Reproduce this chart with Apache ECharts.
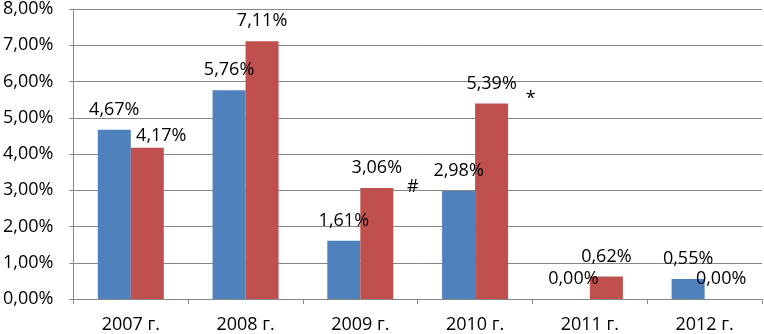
<!DOCTYPE html>
<html>
<head>
<meta charset="utf-8">
<script src="https://cdn.jsdelivr.net/npm/echarts@6/dist/echarts.min.js"></script>
<style>
    html, body { margin: 0; padding: 0; background: #fff; }
    #chart { width: 764px; height: 334px; }
</style>
</head>
<body>
<div id="chart"></div>
<script>
// данные графика
const years = ['2007 г.', '2008 г.', '2009 г.', '2010 г.', '2011 г.', '2012 г.'];
const blueValues = [4.67, 5.76, 1.61, 2.98, 0.00, 0.55];
const redValues = [4.17, 7.11, 3.06, 5.39, 0.62, 0.00];
const yTicks = [0, 1, 2, 3, 4, 5, 6, 7, 8];
const marks = [['2009 г.', 3.06, '#'], ['2010 г.', 5.39, '*']];

const FONT = 'Open Sans';
const FS = 18;
const fmt = function (v) {
    return Number(v).toFixed(2).replace('.', ',') + '%';
};

let chart = echarts.init(document.getElementById('chart'), null, {renderer: 'canvas'});

let redData = redValues.map(function (v, i) {
    if (i === 0) { // 4,17% сдвинута вправо, чтобы не налезать на соседнюю
        return {value: v, label: {offset: [14, 8]}};
    }
    return v;
});

let labelStyle = {
    show: true,
    position: 'top',
    distance: 11,
    fontFamily: FONT,
    fontSize: FS,
    color: '#000',
    formatter: function (p) { return fmt(p.value); }
};

let option = {
    animation: false,
    grid: {
        left: 71,
        right: 2,
        top: 8,
        bottom: 34,
        containLabel: false
    },
    xAxis: {
        type: 'category',
        data: years,
        axisLine: {lineStyle: {color: '#868686', width: 1}},
        axisTick: {show: true, length: 5, lineStyle: {color: '#868686'}},
        axisLabel: {
            fontFamily: FONT,
            fontSize: FS,
            color: '#000',
            margin: 17
        }
    },
    yAxis: {
        type: 'value',
        min: yTicks[0],
        max: yTicks[yTicks.length - 1],
        interval: 1,
        axisLine: {show: true, lineStyle: {color: '#868686', width: 1}},
        axisTick: {show: true, length: 4, lineStyle: {color: '#868686'}},
        splitLine: {lineStyle: {color: '#868686', width: 1}},
        axisLabel: {
            fontFamily: FONT,
            fontSize: FS,
            color: '#000',
            margin: 20,
            formatter: fmt
        }
    },
    series: [
        {
            name: 'blue',
            type: 'bar',
            data: blueValues,
            barWidth: 33,
            barGap: '0%',
            itemStyle: {color: '#4F81BD'},
            label: labelStyle
        },
        {
            name: 'red',
            type: 'bar',
            data: redData,
            barWidth: 33,
            barGap: '0%',
            itemStyle: {color: '#C0504D'},
            label: labelStyle,
            markPoint: {
                symbol: 'circle',
                symbolSize: 0,
                silent: true,
                data: marks.map(function (m, i) {
                    return {
                        coord: [m[0], m[1]],
                        label: {
                            show: true,
                            formatter: m[2],
                            position: 'inside',
                            fontFamily: FONT,
                            fontSize: FS,
                            color: '#000',
                            offset: i === 0 ? [36, -1] : [39, -5]
                        }
                    };
                })
            }
        }
    ]
};

chart.setOption(option);
</script>
</body>
</html>
